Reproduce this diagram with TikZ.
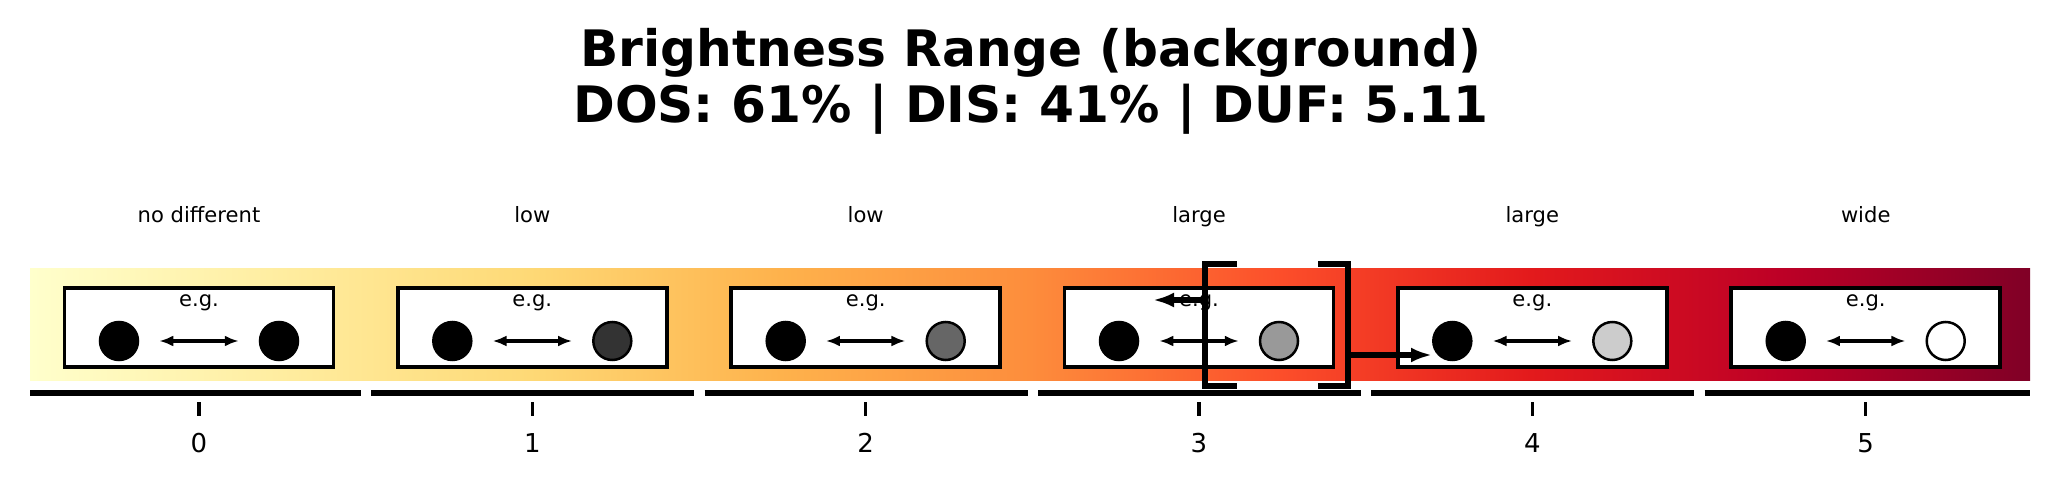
\documentclass[tikz,border=0pt]{standalone}
\usepackage{fontspec}
\setmainfont{DejaVu Sans}
\usetikzlibrary{arrows.meta}

\definecolor{yo0}{RGB}{255,255,204}
\definecolor{yo1}{RGB}{255,237,160}
\definecolor{yo2}{RGB}{254,217,118}
\definecolor{yo3}{RGB}{254,178,76}
\definecolor{yo4}{RGB}{253,141,60}
\definecolor{yo5}{RGB}{252,78,42}
\definecolor{yo6}{RGB}{227,26,28}
\definecolor{yo7}{RGB}{189,0,38}
\definecolor{yo8}{RGB}{128,0,38}
\pgfdeclarehorizontalshading{ylorrd}{100bp}{color(0bp)=(yo0); color(25bp)=(yo0);
  color(31.25bp)=(yo1); color(37.5bp)=(yo2); color(43.75bp)=(yo3); color(50bp)=(yo4);
  color(56.25bp)=(yo5); color(62.5bp)=(yo6); color(68.75bp)=(yo7); color(75bp)=(yo8);
  color(100bp)=(yo8)}

\tikzset{
    egbox/.style={draw, line width=0.35mm, fill=white, minimum width=26.9mm, minimum height=7.9mm, inner sep=0pt},
    disc/.style={circle, draw, line width=0.25mm, minimum size=3.8mm, inner sep=0pt},
    smalltext/.style={font=\fontsize{6}{7}\selectfont, anchor=base, inner sep=0pt},
    ticktext/.style={font=\fontsize{7.4}{9}\selectfont, anchor=base, inner sep=0pt},
    titletext/.style={font=\fontsize{14.3}{16}\selectfont\bfseries, anchor=base, inner sep=0pt},
    both/.style={{Latex[length=1.4mm,width=1.1mm]}-{Latex[length=1.4mm,width=1.1mm]}, line width=0.32mm, shorten <=2mm, shorten >=2mm},
    axisseg/.style={line width=0.55mm},
    tickmark/.style={line width=0.35mm},
    bracketline/.style={line width=0.6mm},
    pointer/.style={-{Latex[length=2.1mm,width=1.5mm]}, line width=0.55mm}
}

\begin{document}
\begin{tikzpicture}[x=0.1mm, y=-0.1mm]
            \useasboundingbox (0,0) rectangle (2060,488);
            \node[titletext] (title1) at (1031,67) {Brightness Range (background)};
            \node[titletext] (title2) at (1031,123) {DOS: 61\% | DIS: 41\% | DUF: 5.11};
            % colour bar
            \shade[shading=ylorrd] (30,269) rectangle (2030,381);
            % 0
            \node[smalltext] (l0) at (199,223) {no different};
            \node[egbox] (b0) at (199,327.5) {};
            \node[smalltext] (e0) at (199,307) {e.g.};
            \node[disc, fill=black] (p0) at (119,341) {};
            \node[disc, fill=black] (q0) at (279,341) {};
            \draw[both] (p0) -- (q0);
            \draw[axisseg] (30,393) -- (361,393);
            \draw[tickmark] (199,402) -- (199,416);
            \node[ticktext] (t0) at (199,452.5) {0};
            % 1
            \node[smalltext] (l1) at (532.3,223) {low};
            \node[egbox] (b1) at (532.3,327.5) {};
            \node[smalltext] (e1) at (532.3,307) {e.g.};
            \node[disc, fill=black] (p1) at (452.3,341) {};
            \node[disc, fill=black!80] (q1) at (612.3,341) {};
            \draw[both] (p1) -- (q1);
            \draw[axisseg] (371.3,393) -- (694.3,393);
            \draw[tickmark] (532.3,402) -- (532.3,416);
            \node[ticktext] (t1) at (532.3,452.5) {1};
            % 2
            \node[smalltext] (l2) at (865.7,223) {low};
            \node[egbox] (b2) at (865.7,327.5) {};
            \node[smalltext] (e2) at (865.7,307) {e.g.};
            \node[disc, fill=black] (p2) at (785.7,341) {};
            \node[disc, fill=black!60] (q2) at (945.7,341) {};
            \draw[both] (p2) -- (q2);
            \draw[axisseg] (704.7,393) -- (1027.7,393);
            \draw[tickmark] (865.7,402) -- (865.7,416);
            \node[ticktext] (t2) at (865.7,452.5) {2};
            % 3
            \node[smalltext] (l3) at (1199,223) {large};
            \node[egbox] (b3) at (1199,327.5) {};
            \node[smalltext] (e3) at (1199,307) {e.g.};
            \node[disc, fill=black] (p3) at (1119,341) {};
            \node[disc, fill=black!40] (q3) at (1279,341) {};
            \draw[both] (p3) -- (q3);
            \draw[axisseg] (1038,393) -- (1361,393);
            \draw[tickmark] (1199,402) -- (1199,416);
            \node[ticktext] (t3) at (1199,452.5) {3};
            % 4
            \node[smalltext] (l4) at (1532.3,223) {large};
            \node[egbox] (b4) at (1532.3,327.5) {};
            \node[smalltext] (e4) at (1532.3,307) {e.g.};
            \node[disc, fill=black] (p4) at (1452.3,341) {};
            \node[disc, fill=black!20] (q4) at (1612.3,341) {};
            \draw[both] (p4) -- (q4);
            \draw[axisseg] (1371.3,393) -- (1694.3,393);
            \draw[tickmark] (1532.3,402) -- (1532.3,416);
            \node[ticktext] (t4) at (1532.3,452.5) {4};
            % 5
            \node[smalltext] (l5) at (1865.7,223) {wide};
            \node[egbox] (b5) at (1865.7,327.5) {};
            \node[smalltext] (e5) at (1865.7,307) {e.g.};
            \node[disc, fill=black] (p5) at (1785.7,341) {};
            \node[disc, fill=white] (q5) at (1945.7,341) {};
            \draw[both] (p5) -- (q5);
            \draw[axisseg] (1704.7,393) -- (2030,393);
            \draw[tickmark] (1865.7,402) -- (1865.7,416);
            \node[ticktext] (t5) at (1865.7,452.5) {5};
            % bracket with pointers
            \draw[bracketline] (1237,264) -- (1205,264) -- (1205,386) -- (1237,386);
            \draw[bracketline] (1318,264) -- (1348,264) -- (1348,386) -- (1318,386);
            \coordinate (lfoot) at (1205,300);
            \coordinate (ltip) at (1153,300);
            \coordinate (rfoot) at (1348,355);
            \coordinate (rtip) at (1432,355);
            \draw[pointer] (lfoot) -- (ltip);
            \draw[pointer] (rfoot) -- (rtip);
        \end{tikzpicture}
\end{document}
